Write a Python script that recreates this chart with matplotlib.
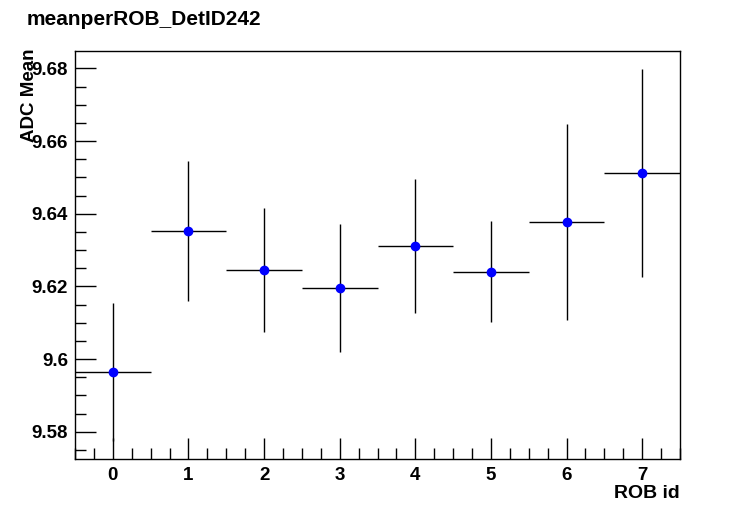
import matplotlib
matplotlib.use('Agg')
import matplotlib.pyplot as plt
from matplotlib.ticker import MultipleLocator, FuncFormatter

plt.rcParams['font.family'] = ['Liberation Sans', 'DejaVu Sans']
plt.rcParams['font.weight'] = 'bold'

# values
rob_id = [0, 1, 2, 3, 4, 5, 6, 7]
adc_mean = [9.5964, 9.6352, 9.6245, 9.6195, 9.6311, 9.6240, 9.6377, 9.6512]
adc_err = [0.0190, 0.0193, 0.0170, 0.0176, 0.0185, 0.0139, 0.0270, 0.0286]
bin_half = [0.5] * 8

fig = plt.figure(figsize=(7.56, 5.11), dpi=100)
ax = fig.add_axes([75 / 756, 1 - 459 / 511, 605 / 756, 408 / 511])

ax.errorbar(rob_id, adc_mean, yerr=adc_err, xerr=bin_half, fmt='o', color='black',
            ecolor='black', elinewidth=1, capsize=0, markersize=6,
            markerfacecolor='#0000ff', markeredgecolor='#0000ff')

ax.set_xlim(-0.5, 7.5)
ax.set_ylim(9.5725, 9.6848)

ax.xaxis.set_major_locator(MultipleLocator(1))
ax.xaxis.set_minor_locator(MultipleLocator(0.25))
ax.yaxis.set_major_locator(MultipleLocator(0.02))
ax.yaxis.set_minor_locator(MultipleLocator(0.005))
ax.yaxis.set_major_formatter(FuncFormatter(lambda v, p: f'{round(v, 4):g}'))

ax.tick_params(which='both', direction='in', top=False, right=False, width=1,
               labelsize=13.5)
ax.tick_params(which='major', length=15)
ax.tick_params(which='minor', length=8)
ax.tick_params(axis='x', pad=6)
ax.tick_params(axis='y', pad=5)
for s in ax.spines.values():
    s.set_linewidth(1)

fig.text(27 / 756, 1 - 19 / 511, 'meanperROB_DetID242', fontsize=15, fontweight='bold',
         ha='left', va='center')
fig.text(680 / 756, 1 - 494 / 511, 'ROB id', fontsize=14, fontweight='bold',
         ha='right', va='center')
fig.text(30 / 756, 1 - 49 / 511, 'ADC Mean', fontsize=13.5, fontweight='bold',
         ha='center', va='top', rotation=90)

fig.savefig('out.png', dpi=100)
